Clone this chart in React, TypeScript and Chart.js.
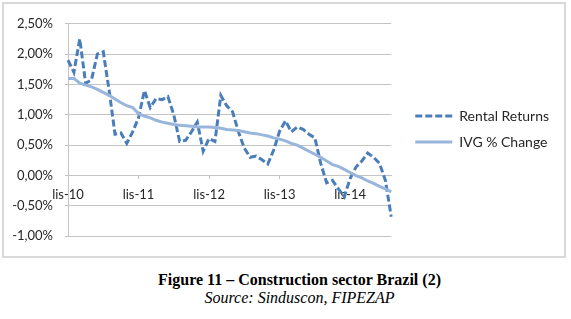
import React, { useEffect, useRef } from 'react';
import { Chart, registerables } from 'chart.js';

Chart.register(...registerables);

// Monthly categories, Nov 2010 – Jun 2015
const months = [
  'lis-10', 'gru-10',
  'sty-11', 'lut-11', 'mar-11', 'kwi-11', 'maj-11', 'cze-11', 'lip-11', 'sie-11', 'wrz-11', 'paź-11', 'lis-11', 'gru-11',
  'sty-12', 'lut-12', 'mar-12', 'kwi-12', 'maj-12', 'cze-12', 'lip-12', 'sie-12', 'wrz-12', 'paź-12', 'lis-12', 'gru-12',
  'sty-13', 'lut-13', 'mar-13', 'kwi-13', 'maj-13', 'cze-13', 'lip-13', 'sie-13', 'wrz-13', 'paź-13', 'lis-13', 'gru-13',
  'sty-14', 'lut-14', 'mar-14', 'kwi-14', 'maj-14', 'cze-14', 'lip-14', 'sie-14', 'wrz-14', 'paź-14', 'lis-14', 'gru-14',
  'sty-15', 'lut-15', 'mar-15', 'kwi-15', 'maj-15', 'cze-15',
];

// Labelled months on the category axis
const tickMonths = ['lis-10', 'lis-11', 'lis-12', 'lis-13', 'lis-14'];

// Rental returns, % (monthly)
const rentalReturns = [
  1.90, 1.70, 2.25, 1.52, 1.58, 2.00, 2.04, 1.40, 0.68, 0.70,
  0.53, 0.72, 0.95, 1.40, 1.12, 1.27, 1.25, 1.30, 1.00, 0.56,
  0.58, 0.72, 0.88, 0.40, 0.61, 0.56, 1.32, 1.15, 1.05, 0.72,
  0.45, 0.30, 0.32, 0.26, 0.19, 0.42, 0.73, 0.90, 0.72, 0.80,
  0.76, 0.68, 0.62, 0.20, -0.12, -0.08, -0.22, -0.35, -0.05, 0.14,
  0.24, 0.37, 0.30, 0.20, -0.08, -0.68,
];

// IVG % change
const ivgChange = [
  1.60, 1.60, 1.52, 1.49, 1.46, 1.42, 1.37, 1.32, 1.26, 1.20,
  1.15, 1.12, 1.02, 0.98, 0.95, 0.91, 0.88, 0.86, 0.84, 0.83,
  0.82, 0.81, 0.80, 0.80, 0.80, 0.79, 0.78, 0.76, 0.75, 0.74,
  0.72, 0.70, 0.69, 0.67, 0.65, 0.62, 0.60, 0.57, 0.53, 0.50,
  0.45, 0.40, 0.35, 0.30, 0.24, 0.18, 0.15, 0.10, 0.05, 0.00,
  -0.04, -0.09, -0.13, -0.18, -0.22, -0.27,
];

const fmtPct = (v: number) => v.toFixed(2).replace('.', ',') + '%';

const GRID = '#c4c4c4';
const TEXT = '#262626';

export default function App() {
  const canvasRef = useRef<HTMLCanvasElement | null>(null);

  useEffect(() => {
    if (!canvasRef.current) return;
    Chart.defaults.font.family = 'Lato, "Open Sans", sans-serif';
    const chart = new Chart(canvasRef.current, {
      type: 'line',
      data: {
        labels: months,
        datasets: [
          {
            label: 'IVG % Change',
            data: ivgChange,
            borderColor: '#98b6db',
            borderWidth: 3,
            pointRadius: 0,
            tension: 0,
            fill: false,
          },
          {
            label: 'Rental Returns',
            data: rentalReturns,
            borderColor: '#4a7ebb',
            borderWidth: 3,
            borderDash: [7, 3],
            pointRadius: 0,
            tension: 0,
            fill: false,
          },
        ],
      },
      options: {
        responsive: false,
        animation: false,
        layout: { padding: { left: 0, top: 15, bottom: 17, right: 5 } },
        plugins: {
          tooltip: { enabled: false },
          legend: {
            position: 'right',
            reverse: true,
            maxWidth: 220,
            labels: {
              usePointStyle: true,
              pointStyle: 'line',
              pointStyleWidth: 37,
              padding: 12,
              color: TEXT,
              font: { size: 14 },
              // legend swatches follow each series' own stroke (dash, width, colour)
              generateLabels: (c: any) => {
                const items = Chart.defaults.plugins.legend.labels.generateLabels(c);
                items.forEach((it: any) => {
                  const ds: any = c.data.datasets[it.datasetIndex];
                  it.lineDash = ds.borderDash || [];
                  it.lineWidth = ds.borderWidth;
                  it.strokeStyle = ds.borderColor;
                  it.lineCap = 'butt';
                });
                return items;
              },
            },
          },
        },
        scales: {
          x: {
            position: { y: 0 },
            grid: { drawOnChartArea: false, drawTicks: true, tickLength: 3, color: GRID },
            border: { display: true, color: GRID },
            ticks: {
              autoSkip: false,
              maxRotation: 0,
              padding: 8,
              color: TEXT,
              font: { size: 13 },
              callback: (_v: any, i: number) =>
                tickMonths.includes(months[i]) ? months[i] : null,
            },
          },
          y: {
            min: -1,
            max: 2.5,
            grid: { color: GRID, tickLength: 3 },
            border: { display: true, color: GRID },
            ticks: {
              stepSize: 0.5,
              padding: 12,
              color: TEXT,
              font: { size: 13 },
              callback: (v: any) => fmtPct(Number(v)),
            },
            afterFit: (s: any) => {
              s.width = 64;
            },
          },
          gap: {
            type: 'linear',
            position: 'right',
            display: true,
            grid: { display: false },
            border: { display: false },
            ticks: { display: false },
            afterFit: (s: any) => {
              s.width = 12;
            },
          },
        },
      },
    } as any);
    return () => chart.destroy();
  }, []);

  return (
    <>
      <div
        style={{
          position: 'absolute',
          left: 2,
          top: 2,
          width: 560,
          height: 252,
          border: '2px solid #d9d9d9',
          background: '#fff',
        }}
      >
        <canvas ref={canvasRef} width={560} height={252} style={{ display: 'block' }} />
      </div>
      <div
        style={{
          position: 'absolute',
          left: 0,
          top: 271,
          width: 599,
          textAlign: 'center',
          fontFamily: '"Liberation Serif", "Times New Roman", serif',
          fontSize: 16,
          lineHeight: '18px',
          color: '#000',
        }}
      >
        <div style={{ fontWeight: 'bold' }}>Figure 11 – Construction sector Brazil (2)</div>
        <div style={{ fontStyle: 'italic' }}>Source: Sinduscon, FIPEZAP</div>
      </div>
    </>
  );
}
